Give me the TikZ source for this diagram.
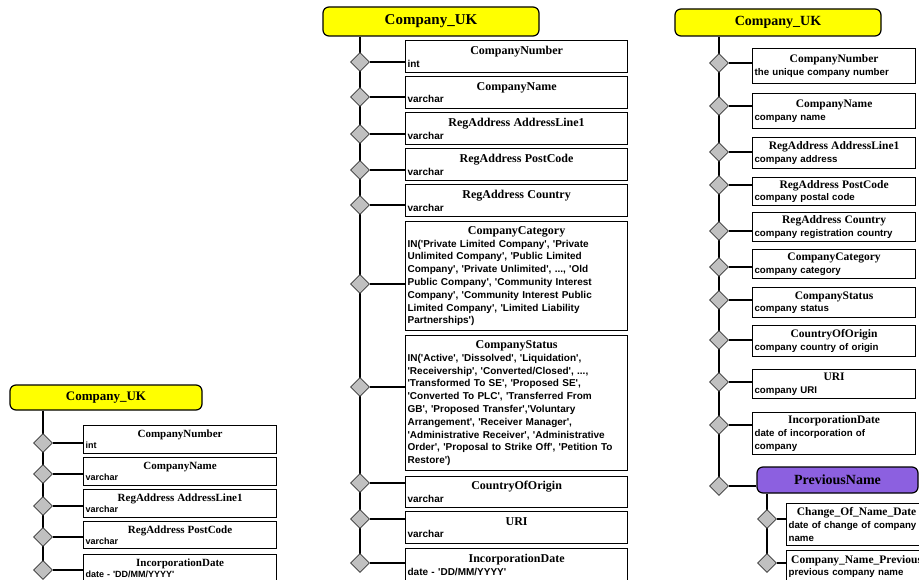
\documentclass[tikz,border=0pt]{standalone}
\usepackage{fontspec}
\setmainfont{Liberation Serif}
\setsansfont{Liberation Sans}[Ligatures=TeXOff]
\usepackage{tikz}
\usetikzlibrary{shapes.geometric}
\pgfdeclarelayer{bg}
\pgfsetlayers{bg,main}
\definecolor{entyellow}{RGB}{255,255,0}
\definecolor{entpurple}{RGB}{140,96,224}
\definecolor{linkgray}{RGB}{192,192,192}
\newcommand{\fname}[2]{{\centering\fontsize{#1}{#1}\selectfont\rmfamily\bfseries #2\par}}
\tikzset{
  entity/.style={draw, line width=1.2pt, rounded corners=6pt, fill=entyellow},
  attr/.style={draw, line width=1.2pt, fill=white, anchor=north west, inner xsep=2pt, inner ysep=1pt, align=left},
  attrA/.style={attr, text width=189pt, font=\sffamily\bfseries\fontsize{9}{11}\selectfont},
  attrB/.style={attr, text width=218pt, font=\sffamily\bfseries\fontsize{10}{12.8}\selectfont},
  attrC/.style={attr, text width=159pt, font=\sffamily\bfseries\fontsize{9.7}{12.7}\selectfont},
  attrP/.style={attr, text width=136pt, font=\sffamily\bfseries\fontsize{9.7}{12.7}\selectfont},
  link/.style={draw=black!80, diamond, aspect=1, fill=linkgray, minimum size=19pt, inner sep=0pt, line width=0.8pt},
  spine/.style={line width=1.2pt},
}

\begin{document}
\begin{tikzpicture}[x=1pt, y=-1pt]
\useasboundingbox (0,0) rectangle (919,580);
\clip (0,0) rectangle (919,580);

	% Figure A
\node [entity, minimum width=192pt, minimum height=25pt, font=\rmfamily\bfseries\fontsize{13}{13}\selectfont] (eA) at (106,397.5) {Company\_UK};
\node [link] (da1) at (43,443) {};
\node [link] (da2) at (43,474) {};
\node [link] (da3) at (43,506) {};
\node [link] (da4) at (43,537) {};
\node [link] (da5) at (43,570) {};
\node [attrA, minimum height=28pt] (ba1) at (83,425) {\fname{11}{CompanyNumber}int};
\node [attrA, minimum height=28pt] (ba2) at (83,457) {\fname{11}{CompanyName}varchar};
\node [attrA, minimum height=28pt] (ba3) at (83,489) {\fname{11}{RegAddress AddressLine1}varchar};
\node [attrA, minimum height=27pt] (ba4) at (83,521) {\fname{11}{RegAddress PostCode}varchar};
\node [attrA, minimum height=28pt] (ba5) at (83,554) {\fname{11}{IncorporationDate}date - 'DD/MM/YYYY'};
\begin{pgfonlayer}{bg}
\draw [spine] (eA.south -| da1) -- (da5.center);
\end{pgfonlayer}
\draw [spine] (da1.east) -- (da1.east -| ba1.west);
\draw [spine] (da2.east) -- (da2.east -| ba2.west);
\draw [spine] (da3.east) -- (da3.east -| ba3.west);
\draw [spine] (da4.east) -- (da4.east -| ba4.west);
\draw [spine] (da5.east) -- (da5.east -| ba5.west);

	% Figure B
\node [entity, minimum width=216pt, minimum height=29pt, font=\rmfamily\bfseries\fontsize{15}{15}\selectfont] (eB) at (431,21.5) {Company\_UK};
\node [link] (db1) at (360,62) {};
\node [link] (db2) at (360,97) {};
\node [link] (db3) at (360,134) {};
\node [link] (db4) at (360,170) {};
\node [link] (db5) at (360,205) {};
\node [link] (db6) at (360,284) {};
\node [link] (db7) at (360,387) {};
\node [link] (db8) at (360,483) {};
\node [link] (db9) at (360,519) {};
\node [link] (db10) at (360,563) {};
\node [attrB, minimum height=32pt] (bb1) at (405,40) {\fname{12}{CompanyNumber}int};
\node [attrB, minimum height=32pt] (bb2) at (405,76) {\fname{12}{CompanyName}varchar};
\node [attrB, minimum height=32pt] (bb3) at (405,112) {\fname{12}{RegAddress AddressLine1}varchar};
\node [attrB, minimum height=32pt] (bb4) at (405,148) {\fname{12}{RegAddress PostCode}varchar};
\node [attrB, minimum height=32pt] (bb5) at (405,184) {\fname{12}{RegAddress Country}varchar};
\node [attrB, minimum height=109pt] (bb6) at (405,221) {\fname{12}{CompanyCategory}IN('Private Limited Company', 'Private\\Unlimited Company', 'Public Limited\\Company', 'Private Unlimited', ..., 'Old\\Public Company', 'Community Interest\\Company', 'Community Interest Public\\Limited Company', 'Limited Liability\\Partnerships')};
\node [attrB, minimum height=135pt] (bb7) at (405,335) {\fname{12}{CompanyStatus}IN('Active', 'Dissolved', 'Liquidation',\\'Receivership', 'Converted/Closed', ...,\\'Transformed To SE', 'Proposed SE',\\'Converted To PLC', 'Transferred From\\GB', 'Proposed Transfer','Voluntary\\Arrangement', 'Receiver Manager',\\'Administrative Receiver', 'Administrative\\Order', 'Proposal to Strike Off', 'Petition To\\Restore')};
\node [attrB, minimum height=31pt] (bb8) at (405,476) {\fname{12}{CountryOfOrigin}varchar};
\node [attrB, minimum height=32pt] (bb9) at (405,511) {\fname{12}{URI}varchar};
\node [attrB, minimum height=32pt] (bb10) at (405,548) {\fname{12}{IncorporationDate}date - 'DD/MM/YYYY'};
\begin{pgfonlayer}{bg}
\draw [spine] (eB.south -| db1) -- (db10.center);
\end{pgfonlayer}
\draw [spine] (db1.east) -- (db1.east -| bb1.west);
\draw [spine] (db2.east) -- (db2.east -| bb2.west);
\draw [spine] (db3.east) -- (db3.east -| bb3.west);
\draw [spine] (db4.east) -- (db4.east -| bb4.west);
\draw [spine] (db5.east) -- (db5.east -| bb5.west);
\draw [spine] (db6.east) -- (db6.east -| bb6.west);
\draw [spine] (db7.east) -- (db7.east -| bb7.west);
\draw [spine] (db8.east) -- (db8.east -| bb8.west);
\draw [spine] (db9.east) -- (db9.east -| bb9.west);
\draw [spine] (db10.east) -- (db10.east -| bb10.west);

	% Figure C
\node [entity, minimum width=206pt, minimum height=27pt, font=\rmfamily\bfseries\fontsize{14}{14}\selectfont] (eC) at (778,22.5) {Company\_UK};
\node [link] (dc1) at (719,63) {};
\node [link] (dc2) at (719,106) {};
\node [link] (dc3) at (719,152) {};
\node [link] (dc4) at (719,185) {};
\node [link] (dc5) at (719,231) {};
\node [link] (dc6) at (719,267) {};
\node [link] (dc7) at (719,300) {};
\node [link] (dc8) at (719,340) {};
\node [link] (dc9) at (719,382) {};
\node [link] (dc10) at (719,425) {};
\node [link] (dc11) at (719,486) {};
\node [attrC, minimum height=35pt] (bc1) at (752,48) {\fname{11.5}{CompanyNumber}the unique company number};
\node [attrC, minimum height=35pt] (bc2) at (752,93) {\fname{11.5}{CompanyName}company name};
\node [attrC, minimum height=31pt] (bc3) at (752,137) {\fname{11.5}{RegAddress AddressLine1}company address};
\node [attrC, minimum height=28pt] (bc4) at (752,177) {\fname{11.5}{RegAddress PostCode}company postal code};
\node [attrC, minimum height=29pt] (bc5) at (752,212) {\fname{11.5}{RegAddress Country}company registration country};
\node [attrC, minimum height=29pt] (bc6) at (752,249) {\fname{11.5}{CompanyCategory}company category};
\node [attrC, minimum height=30pt] (bc7) at (752,287) {\fname{11.5}{CompanyStatus}company status};
\node [attrC, minimum height=31pt] (bc8) at (752,325) {\fname{11.5}{CountryOfOrigin}company country of origin};
\node [attrC, minimum height=29pt] (bc9) at (752,369) {\fname{11.5}{URI}company URI};
\node [attrC, minimum height=42pt] (bc10) at (752,412) {\fname{11.5}{IncorporationDate}date of incorporation of\\company};
\node [entity, fill=entpurple, minimum width=161pt, minimum height=26pt, font=\rmfamily\bfseries\fontsize{14}{14}\selectfont] (pn) at (837.5,480) {PreviousName};
\node [link] (dp1) at (767,519) {};
\node [link] (dp2) at (767,563) {};
\node [attrP, minimum height=42pt] (bp1) at (786,503) {\fname{11.5}{Change\_Of\_Name\_Date}date of change of company\\name};
\node [attrP, minimum height=32pt] (bp2) at (786,550) {\fname{11.5}{Company\_Name\_Previous}previous company name};
\begin{pgfonlayer}{bg}
\draw [spine] (eC.south -| dc1) -- (dc11.center);
\draw [spine] (pn.south -| dp1) -- (dp2.center);
\end{pgfonlayer}
\draw [spine] (dc1.east) -- (dc1.east -| bc1.west);
\draw [spine] (dc2.east) -- (dc2.east -| bc2.west);
\draw [spine] (dc3.east) -- (dc3.east -| bc3.west);
\draw [spine] (dc4.east) -- (dc4.east -| bc4.west);
\draw [spine] (dc5.east) -- (dc5.east -| bc5.west);
\draw [spine] (dc6.east) -- (dc6.east -| bc6.west);
\draw [spine] (dc7.east) -- (dc7.east -| bc7.west);
\draw [spine] (dc8.east) -- (dc8.east -| bc8.west);
\draw [spine] (dc9.east) -- (dc9.east -| bc9.west);
\draw [spine] (dc10.east) -- (dc10.east -| bc10.west);
\draw [spine] (dc11.east) -- (dc11.east -| pn.west);
\draw [spine] (dp1.east) -- (dp1.east -| bp1.west);
\draw [spine] (dp2.east) -- (dp2.east -| bp2.west);
\end{tikzpicture}
\end{document}
